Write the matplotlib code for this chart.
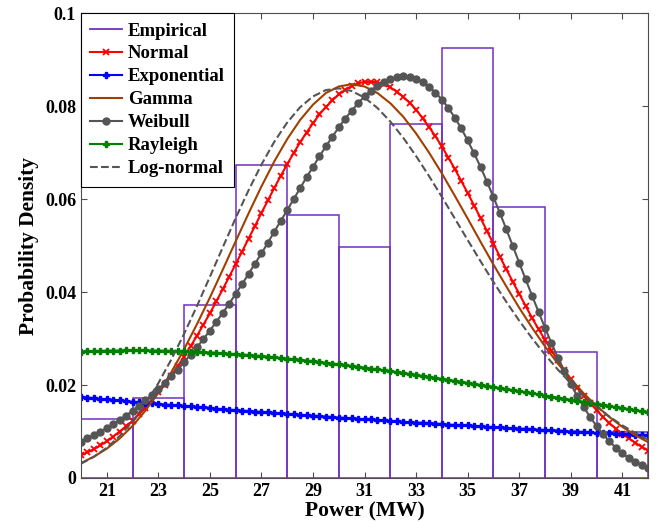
import numpy as np
import matplotlib
matplotlib.use("Agg")
import matplotlib.pyplot as plt

plt.rcParams['font.family'] = ['Liberation Serif', 'DejaVu Serif']
plt.rcParams['font.weight'] = 'bold'

# histogram (bin width 2 MW)
bin_left = [20, 22, 24, 26, 28, 30, 32, 34, 36, 38, 40]
empirical = [0.0126, 0.0171, 0.0372, 0.0673, 0.0566, 0.0497, 0.0761, 0.0925, 0.0583, 0.0271, 0.0098]

x_fine = np.arange(20, 42.001, 0.25)
x_coarse = np.arange(20, 42.001, 0.5)

# units of 1e-4
normal = np.array([
    49, 55, 62, 70, 79, 89, 100, 111, 123, 137, 151, 167, 184, 201, 220, 240, 261, 283, 306, 330,
    354, 380, 406, 433, 460, 487, 515, 542, 570, 597, 624, 650, 675, 699, 722, 743, 763, 782, 798, 812,
    825, 835, 843, 849, 852, 852, 851, 847, 840, 831, 820, 807, 792, 774, 755, 735, 713, 689, 665, 639,
    613, 586, 559, 531, 504, 476, 449, 422, 396, 370, 344, 320, 297, 274, 253, 232, 213, 194, 177, 161,
    146, 131, 118, 106, 95, 85, 76, 67, 59]) / 1e4

exponential = np.array([
    174, 173, 172, 170, 169, 168, 167, 165, 164, 163, 162, 161, 160, 158, 157, 156, 155, 154, 153, 152,
    151, 149, 148, 147, 146, 145, 144, 143, 142, 141, 140, 139, 138, 137, 136, 135, 134, 133, 132, 131,
    130, 129, 128, 127, 126, 126, 125, 124, 123, 122, 121, 120, 119, 119, 118, 117, 116, 115, 114, 113,
    113, 112, 111, 110, 109, 109, 108, 107, 106, 106, 105, 104, 103, 103, 102, 101, 100, 100, 99, 98,
    97, 97, 96, 95, 95, 94, 93, 93, 92]) / 1e4

weibull = np.array([
    78, 85, 92, 99, 107, 116, 125, 134, 145, 155, 167, 179, 191, 205, 219, 233, 249, 265, 281, 299,
    317, 336, 355, 375, 396, 417, 439, 461, 483, 506, 530, 553, 576, 600, 623, 647, 669, 692, 713, 734,
    754, 773, 790, 806, 821, 833, 844, 852, 859, 862, 864, 862, 858, 851, 842, 829, 814, 796, 775, 752,
    726, 698, 669, 637, 604, 570, 535, 499, 463, 427, 392, 357, 323, 290, 259, 230, 202, 176, 153, 131,
    112, 94, 79, 65, 53, 43, 35, 28, 22]) / 1e4

# units of 1e-5
rayleigh = np.array([
    2719, 2725, 2730, 2734, 2738, 2740, 2742, 2744, 2744, 2744, 2744, 2742, 2740, 2737, 2734, 2730,
    2725, 2719, 2713, 2707, 2699, 2692, 2683, 2674, 2665, 2655, 2644, 2633, 2621, 2609, 2596, 2583,
    2569, 2555, 2541, 2526, 2510, 2494, 2478, 2462, 2445, 2427, 2409, 2391, 2373, 2354, 2335, 2316,
    2297, 2277, 2257, 2236, 2216, 2195, 2174, 2153, 2132, 2110, 2089, 2067, 2045, 2023, 2000, 1978,
    1956, 1933, 1911, 1888, 1865, 1843, 1820, 1797, 1774, 1751, 1728, 1706, 1683, 1660, 1637, 1615,
    1592, 1569, 1547, 1524, 1502, 1480, 1457, 1435, 1413]) / 1e5

# coarse curves, units of 1e-4 / 1e-5
gamma = np.array([
    32, 46, 63, 85, 112, 145, 183, 227, 277, 331, 388, 448, 509, 569, 627, 681, 729, 770, 803, 828,
    842, 847, 842, 828, 806, 777, 741, 700, 655, 607, 558, 508, 459, 412, 366, 323, 283, 246, 213, 182,
    155, 131, 110, 92, 77]) / 1e4

lognormal = np.array([
    307, 455, 651, 903, 1217, 1596, 2039, 2544, 3101, 3700, 4326, 4961, 5588, 6187, 6741, 7232,
    7646, 7974, 8207, 8343, 8380, 8324, 8181, 7958, 7666, 7318, 6923, 6495, 6045, 5583, 5119, 4661,
    4215, 3788, 3383, 3004, 2653, 2330, 2036, 1770, 1532, 1320, 1132, 968, 823]) / 1e5

purple = '#7030c0'

fig, ax = plt.subplots(figsize=(6.6, 5.22), dpi=100)
fig.subplots_adjust(left=0.1227, right=0.982, bottom=0.0843, top=0.975)

ax.bar(bin_left, empirical, width=2, align='edge', fill=False, edgecolor=purple, linewidth=1.1)
ax.plot([], [], color=purple, lw=1.3, label='Empirical')  # legend entry for the bars
ax.plot(x_fine, normal, color='red', marker='x', ms=4, mew=1.3, lw=1.5, label='Normal')
ax.plot(x_fine, exponential, color='blue', marker='P', ms=4, lw=1.5, label='Exponential')
ax.plot(x_coarse, gamma, color='#a04000', lw=1.5, label='Gamma')
ax.plot(x_fine, weibull, color='#555555', marker='o', ms=5, lw=1.5, label='Weibull')
ax.plot(x_fine, rayleigh, color='green', marker='P', ms=4, lw=1.5, label='Rayleigh')
ax.plot(x_coarse, lognormal, color='#555555', ls='--', lw=1.5, label='Log-normal')

ax.set_xlim(20, 42)
ax.set_ylim(0, 0.1)
ax.set_xticks(range(21, 42, 2))
ax.set_yticks([0, 0.02, 0.04, 0.06, 0.08, 0.1])
ax.set_yticklabels(['0', '0.02', '0.04', '0.06', '0.08', '0.1'])
ax.tick_params(direction='in', top=True, right=True, labelsize=13, length=4, color='0.3')
for s in ax.spines.values():
    s.set_color('0.3')
    s.set_linewidth(0.8)
ax.set_xlabel('Power (MW)', fontsize=15.5, fontweight='bold', labelpad=1)
ax.set_ylabel('Probability Density', fontsize=15.5, fontweight='bold', labelpad=4)

leg = ax.legend(loc='upper left', fontsize=13.5, numpoints=1, handlelength=1.7, handletextpad=0.3,
                labelspacing=0.31, borderaxespad=0, borderpad=0.5, fancybox=False, framealpha=1,
                edgecolor='black')
leg.get_frame().set_linewidth(0.8)

fig.savefig('out.png', dpi=100)
